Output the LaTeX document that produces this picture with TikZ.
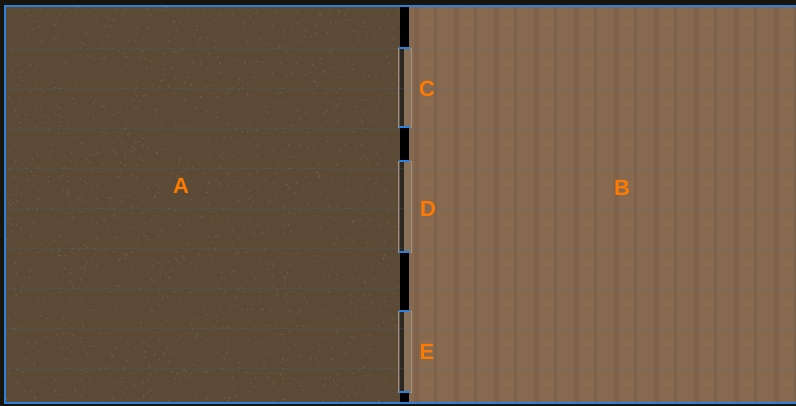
\documentclass[tikz,border=0pt]{standalone}
\usepackage{fontspec}
\setmainfont{Liberation Sans}
\definecolor{floorA}{HTML}{5B4A35}
\definecolor{floorB}{HTML}{86694F}
\definecolor{tileA}{HTML}{7A5E46}
\definecolor{tileB}{HTML}{926F54}
\definecolor{edge}{HTML}{2C80D8}
\definecolor{tag}{HTML}{FF7A00}
\definecolor{frame}{HTML}{A89E92}
\tikzset{
  roomlabel/.style={text=tag,font=\bfseries\fontsize{22}{22}\selectfont,inner sep=0pt},
  wallseg/.style={fill=black},
  doorframe/.style={draw=frame,line width=.7pt,fill=frame,fill opacity=.15,draw opacity=.8},
  gridline/.style={draw=edge!60!floorA,line width=.4pt,opacity=.2},
  post/.style={draw=edge,line width=1.5pt}}

\begin{document}
\begin{tikzpicture}[x=1pt,y=-1pt]
\useasboundingbox (0,0) rectangle (796,406);
\fill[black!75!floorA] (0,0) rectangle (796,406);
% room A floor
\fill[floorA] (5,6) rectangle (400,403);
\pgfmathsetseed{7}
\foreach \i in {1,...,1400}
  \fill[floorA!75!white,opacity=.4] (rnd*393+6,rnd*395+7) circle (.9pt);
% room B floor, tiles
\fill[floorB] (404,6) rectangle (796,403);
\foreach \x in {414,454,...,794}{
  \fill[tileA,opacity=.6] (\x,6) rectangle ++(5,397);
  \fill[tileA,opacity=.6] (\x+20,6) rectangle ++(3,397);}
\foreach \x in {421,461,...,781}
  \foreach \y in {20,60,...,380}
    \fill[tileB,opacity=.5] (\x,\y) rectangle ++(12,6);
% grid
\foreach \y in {48,88,...,368} \draw[gridline] (5,\y) -- (796,\y);
% wall and doors
\foreach \a/\b in {48/127,161/252,311/392}
  \draw[doorframe] (398,\a) rectangle (411,\b);
\foreach \a/\b in {6/48,127/161,252/311,392/403}{
  \fill[wallseg] (400,\a) rectangle (409,\b);
  \draw[post] (399,\a) -- (410,\a);
  \draw[post] (399,\b) -- (410,\b);}
\draw[edge,line width=2.5pt] (5,6) rectangle (798,403);
% labels
\node[roomlabel] (roomA) at (181,186) {A};
\node[roomlabel] (roomB) at (622,188) {B};
\node[roomlabel] (doorC) at (427,89) {C};
\node[roomlabel] (doorD) at (428,209) {D};
\node[roomlabel] (doorE) at (427,352) {E};
\end{tikzpicture}
\end{document}
